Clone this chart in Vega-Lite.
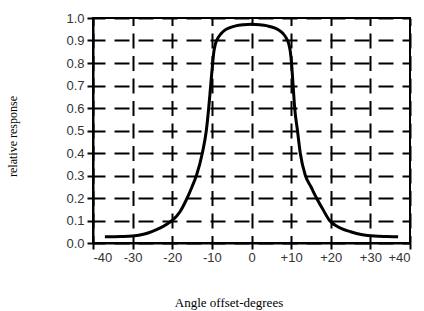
{
  "$schema": "https://vega.github.io/schema/vega-lite/v6.json",
  "autosize": {"type": "none"},
  "padding": {"left": 93, "top": 18, "right": 14, "bottom": 68},
  "width": 317,
  "height": 225,
  "background": "white",
  "config": {
    "view": {"stroke": "black", "strokeWidth": 2},
    "axis": {
      "labelFont": "Liberation Sans",
      "labelFontSize": 13,
      "labelColor": "#333",
      "titleFont": "Liberation Serif",
      "titleFontSize": 12,
      "titleFontWeight": "normal",
      "titleColor": "black",
      "domainColor": "black",
      "domainWidth": 2,
      "tickColor": "black",
      "tickWidth": 2,
      "tickSize": 6,
      "gridColor": "black",
      "gridWidth": 2,
      "gridOpacity": 1
    }
  },
  "data": {
    "values": [
      {"angle": -37, "response": 0.028},
      {"angle": -33, "response": 0.029},
      {"angle": -30, "response": 0.031},
      {"angle": -27, "response": 0.04},
      {"angle": -25, "response": 0.052},
      {"angle": -23, "response": 0.067},
      {"angle": -21, "response": 0.088},
      {"angle": -20, "response": 0.1},
      {"angle": -18, "response": 0.14},
      {"angle": -16.5, "response": 0.19},
      {"angle": -15, "response": 0.25},
      {"angle": -13.9, "response": 0.3},
      {"angle": -12.4, "response": 0.4},
      {"angle": -11.4, "response": 0.5},
      {"angle": -10.8, "response": 0.6},
      {"angle": -10.3, "response": 0.7},
      {"angle": -9.8, "response": 0.8},
      {"angle": -9.5, "response": 0.85},
      {"angle": -9.1, "response": 0.885},
      {"angle": -8.5, "response": 0.91},
      {"angle": -7.7, "response": 0.93},
      {"angle": -6.8, "response": 0.945},
      {"angle": -5.6, "response": 0.956},
      {"angle": -4, "response": 0.965},
      {"angle": -2, "response": 0.97},
      {"angle": 0, "response": 0.972},
      {"angle": 2, "response": 0.97},
      {"angle": 4, "response": 0.965},
      {"angle": 5.8, "response": 0.956},
      {"angle": 7, "response": 0.945},
      {"angle": 8, "response": 0.93},
      {"angle": 8.8, "response": 0.91},
      {"angle": 9.4, "response": 0.885},
      {"angle": 9.8, "response": 0.85},
      {"angle": 10.1, "response": 0.8},
      {"angle": 10.5, "response": 0.7},
      {"angle": 10.9, "response": 0.6},
      {"angle": 11.6, "response": 0.5},
      {"angle": 12.3, "response": 0.4},
      {"angle": 13.6, "response": 0.3},
      {"angle": 15, "response": 0.25},
      {"angle": 16.4, "response": 0.2},
      {"angle": 18, "response": 0.15},
      {"angle": 19.7, "response": 0.1},
      {"angle": 22, "response": 0.07},
      {"angle": 25, "response": 0.05},
      {"angle": 28, "response": 0.037},
      {"angle": 31, "response": 0.031},
      {"angle": 34, "response": 0.029},
      {"angle": 37, "response": 0.028}
    ]
  },
  "mark": {"type": "line", "color": "black", "strokeWidth": 3, "interpolate": "monotone"},
  "encoding": {
    "x": {
      "field": "angle",
      "type": "quantitative",
      "scale": {"domain": [-40, 40], "nice": false},
      "axis": {
        "title": "Angle offset-degrees",
        "values": [-40, -30, -20, -10, 0, 10, 20, 30, 40],
        "labelExpr": "datum.value > 0 ? '+' + datum.value : '' + datum.value",
        "labelPadding": 2,
        "gridDash": [15, 7.5],
        "gridDashOffset": 7.5,
        "titleY": 59,
        "titleX": 135.5,
        "titleFontSize": 13,
        "titleBaseline": "middle",
        "titleAlign": "center"
      }
    },
    "y": {
      "field": "response",
      "type": "quantitative",
      "scale": {"domain": [0, 1], "nice": false},
      "axis": {
        "title": "relative response",
        "values": [0, 0.1, 0.2, 0.3, 0.4, 0.5, 0.6, 0.7, 0.8, 0.9, 1.0],
        "format": ".1f",
        "labelPadding": 3,
        "gridDash": [15, 9],
        "gridDashOffset": 3,
        "titleX": -81,
        "titleY": 118,
        "titleBaseline": "middle",
        "titleAlign": "center",
        "titleAngle": -90
      }
    }
  }
}
